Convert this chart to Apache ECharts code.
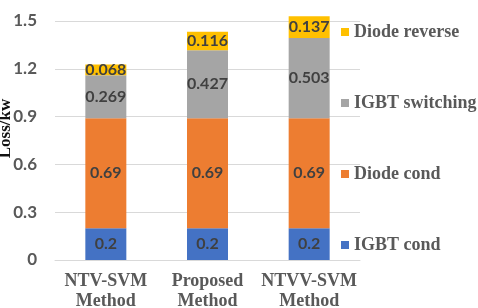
<!DOCTYPE html>
<html>
<head>
<meta charset="utf-8">
<script src="https://cdn.jsdelivr.net/npm/echarts@6/dist/echarts.min.js"></script>
<style>
    html, body { margin: 0; padding: 0; background: #fff; }
    #chart { width: 478px; height: 308px; }
</style>
</head>
<body>
<div id="chart"></div>
<script>
// categories
const methods = ['NTV-SVM\nMethod', 'Proposed\nMethod', 'NTVV-SVM\nMethod'];

// series values (kW)
const igbtCond = [0.2, 0.2, 0.2];
const diodeCond = [0.69, 0.69, 0.69];
const igbtSwitching = [0.269, 0.427, 0.503];
const diodeReverse = [0.068, 0.116, 0.137];

// tick labels
const yTicks = [0, 0.3, 0.6, 0.9, 1.2, 1.5];

const serif = '"Liberation Serif", "DejaVu Serif", serif';
const sans = 'Lato, "Open Sans", sans-serif';

const makeSeries = (name, data, color) => ({
    name: name,
    type: 'bar',
    stack: 'loss',
    barWidth: 41,
    clip: false,
    data: data,
    itemStyle: {color: color},
    label: {
        show: true,
        position: 'inside',
        color: '#404040',
        fontFamily: sans,
        fontWeight: 'bold',
        fontSize: 16
    }
});

const myEchart = echarts.init(document.getElementById('chart'));
myEchart.setOption({
    animation: false,
    backgroundColor: '#fff',
    grid: {left: 55, right: 118, top: 21, bottom: 48, outerBoundsMode: 'none'},
    legend: {
        orient: 'vertical',
        left: 336,
        top: 17,
        itemWidth: 8,
        itemHeight: 8,
        itemGap: 51,
        icon: 'rect',
        data: ['Diode reverse', 'IGBT switching', 'Diode cond', 'IGBT cond'],
        textStyle: {
            fontFamily: serif,
            fontWeight: 'bold',
            fontSize: 18,
            lineHeight: 20,
            color: '#595959'
        }
    },
    xAxis: {
        type: 'category',
        data: methods,
        axisTick: {show: false},
        axisLine: {lineStyle: {color: '#D9D9D9'}},
        axisLabel: {
            interval: 0,
            margin: 11,
            fontFamily: serif,
            fontWeight: 'bold',
            fontSize: 18,
            lineHeight: 20,
            color: '#595959'
        }
    },
    yAxis: {
        type: 'value',
        min: yTicks[0],
        max: yTicks[yTicks.length - 1],
        interval: 0.3,
        name: 'Loss/kw',
        nameLocation: 'middle',
        nameGap: 41,
        nameMoveOverlap: false,
        nameTextStyle: {
            fontFamily: serif,
            fontWeight: 'bold',
            fontSize: 17,
            color: '#111',
            padding: [0, 0, 0, 24]
        },
        axisLine: {show: false},
        axisTick: {show: false},
        splitLine: {lineStyle: {color: '#D9D9D9'}},
        axisLabel: {
            margin: 18,
            fontFamily: sans,
            fontWeight: 'bold',
            fontSize: 17,
            color: '#595959',
            formatter: v => String(Math.round(v * 10) / 10)
        }
    },
    series: [
        makeSeries('IGBT cond', igbtCond, '#4472C4'),
        makeSeries('Diode cond', diodeCond, '#ED7D31'),
        makeSeries('IGBT switching', igbtSwitching, '#A5A5A5'),
        makeSeries('Diode reverse', diodeReverse, '#FFC000')
    ]
});
</script>
</body>
</html>
